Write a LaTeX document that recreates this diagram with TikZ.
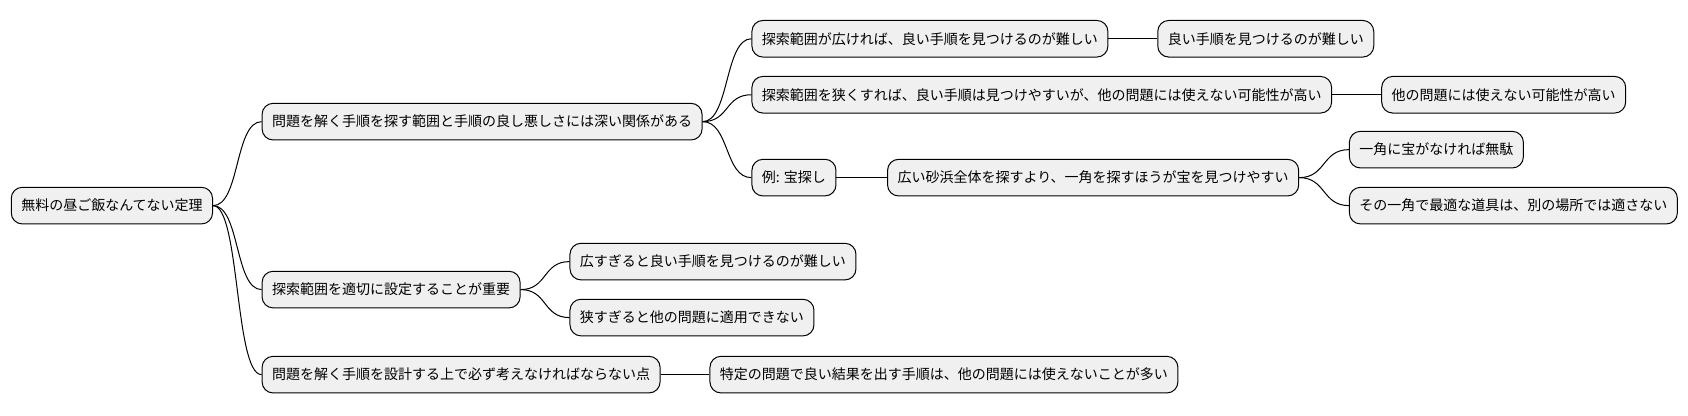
\documentclass[tikz,border=0pt]{standalone}
\usepackage{fontspec}
\setmainfont{Noto Sans CJK JP}
\begin{document}
\begin{tikzpicture}[x=0.5383pt,y=-0.5383pt,
  box/.style={draw=black,fill=black!6,rounded corners=5.5pt,anchor=west,
    minimum height=18.3pt,inner xsep=5pt,inner ysep=0pt,line width=0.5pt,
    font=\fontsize{7}{8}\selectfont},
  edge/.style={line width=0.5pt}]
  \useasboundingbox (0,0) rectangle (1568,385.5);
  % roots and branches
  \node[box] (root) at (10,191) {無料の昼ご飯なんてない定理};
  \node[box] (rel) at (243,113) {問題を解く手順を探す範囲と手順の良し悪しさには深い関係がある};
  \node[box] (set) at (243,269) {探索範囲を適切に設定することが重要};
  \node[box] (pt) at (243,348) {問題を解く手順を設計する上で必ず考えなければならない点};
  \node[box] (wide) at (698,36) {探索範囲が広ければ、良い手順を見つけるのが難しい};
  \node[box] (narrow) at (698,88) {探索範囲を狭くすれば、良い手順は見つけやすいが、他の問題には使えない可能性が高い};
  \node[box] (ex) at (698,165) {例: 宝探し};
  \node[box] (toowide) at (529,243) {広すぎると良い手順を見つけるのが難しい};
  \node[box] (toonarrow) at (529,295) {狭すぎると他の問題に適用できない};
  \node[box] (spec) at (659,348) {特定の問題で良い結果を出す手順は、他の問題には使えないことが多い};
  \node[box] (hard) at (1075,36) {良い手順を見つけるのが難しい};
  \node[box] (other) at (1283,88) {他の問題には使えない可能性が高い};
  \node[box] (beach) at (824,165) {広い砂浜全体を探すより、一角を探すほうが宝を見つけやすい};
  \node[box] (waste) at (1253,139) {一角に宝がなければ無駄};
  \node[box] (tool) at (1253,191) {その一角で最適な道具は、別の場所では適さない};
  % connectors
  \foreach \a/\b in {root/rel,root/set,root/pt,rel/wide,rel/narrow,rel/ex,
    set/toowide,set/toonarrow,pt/spec,wide/hard,narrow/other,ex/beach,
    beach/waste,beach/tool}
    \draw[edge] (\a.east) .. controls +(25,0) and +(-25,0) .. (\b.west);
\end{tikzpicture}
\end{document}
